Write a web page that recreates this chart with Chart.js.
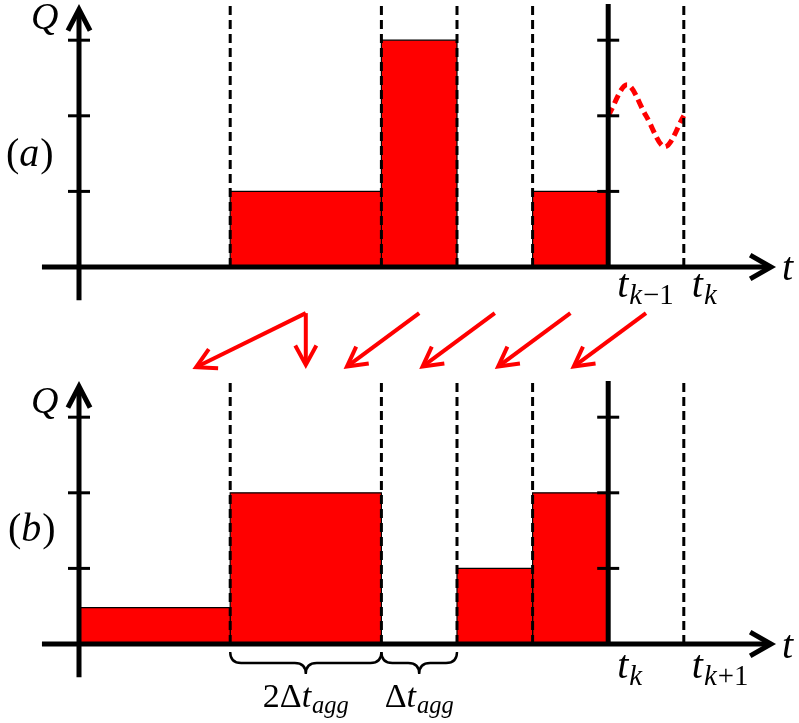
<!DOCTYPE html>
<html>
<head>
<meta charset="utf-8">
<script src="https://cdn.jsdelivr.net/npm/chart.js@4.4.1/dist/chart.umd.min.js"></script>
<style>
  html, body { margin: 0; padding: 0; background: #fff; }
  #wrap { position: relative; width: 799px; height: 723px; }
  #chartA { position: absolute; left: 0; top: 0; }
  #chartB { position: absolute; left: 0; top: 380px; }
</style>
</head>
<body>
<div id="wrap">
  <canvas id="chartA" width="799" height="380"></canvas>
  <canvas id="chartB" width="799" height="343"></canvas>
</div>
<script>
// time in units of Δt_agg, Q in tick units

// (a) bins before aggregation
const binStartA = [2, 4, 6];
const binEndA   = [4, 5, 7];
const flowA     = [1, 3, 1];

// (b) bins after shifting one step
const binStartB = [0, 2, 5, 6];
const binEndB   = [2, 4, 6, 7];
const flowB     = [0.48, 2, 1, 2];

const gridT  = [2, 4, 5, 6, 8];
const nowA   = 7;
const nowB   = 7;
const qTicks = [1, 2, 3];

// sketched forecast between t_{k-1} and t_k
const forecastT = [7, 7.25, 7.5, 7.75, 8];
const forecastQ = [2, 2.41, 2, 1.59, 2];

// shift arrows from (a) bins to (b) bins
const arrowFromT = [3, 3, 4.5, 5.5, 6.5, 7.5];
const arrowToT   = [1.5, 3, 3.5, 4.5, 5.5, 6.5];

const RED = '#ff0000';
const PX = 75.6;       // pixels per unit, both axes
const ORIGIN_X = 79;   // pixel column of t = 0

function font(size, it) {
  return (it ? 'italic ' : '') + size + 'px "Liberation Serif", serif';
}

// draws a math-ish label made of runs: {txt, it, sub}
function drawRuns(ctx, runs, x, y, size, align) {
  const pieces = runs.map(r => {
    const s = r.sub ? size * 0.72 : size;
    ctx.font = font(s, r.it);
    return { r: r, size: s, w: ctx.measureText(r.txt).width + (r.pad || 0) };
  });
  const total = pieces.reduce((a, p) => a + p.w, 0);
  let cx = align === 'center' ? x - total / 2 : x;
  ctx.save();
  ctx.fillStyle = '#000';
  ctx.textAlign = 'left';
  ctx.textBaseline = 'alphabetic';
  pieces.forEach(p => {
    ctx.font = font(p.size, p.r.it);
    ctx.fillText(p.r.txt, cx, y + (p.r.sub ? size * 0.17 : 0));
    cx += p.w;
  });
  ctx.restore();
}

function arrow(ctx, x0, y0, x1, y1, len, ang, width, color) {
  const a = Math.atan2(y1 - y0, x1 - x0);
  const back = width / (2 * Math.sin(ang));
  const tx = x1 - Math.cos(a) * back, ty = y1 - Math.sin(a) * back;
  ctx.save();
  ctx.strokeStyle = color;
  ctx.lineWidth = width;
  ctx.lineCap = 'butt';
  ctx.lineJoin = 'miter';
  ctx.beginPath();
  ctx.moveTo(x0, y0);
  ctx.lineTo(tx - Math.cos(a) * 2, ty - Math.sin(a) * 2);
  ctx.stroke();
  ctx.beginPath();
  ctx.moveTo(tx - len * Math.cos(a - ang), ty - len * Math.sin(a - ang));
  ctx.lineTo(tx, ty);
  ctx.lineTo(tx - len * Math.cos(a + ang), ty - len * Math.sin(a + ang));
  ctx.stroke();
  ctx.restore();
}

function line(ctx, x0, y0, x1, y1, w) {
  ctx.save();
  ctx.strokeStyle = '#000';
  ctx.lineWidth = w;
  ctx.beginPath();
  ctx.moveTo(x0, y0);
  ctx.lineTo(x1, y1);
  ctx.stroke();
  ctx.restore();
}

// axes, "now" line and its ticks
function drawFrame(chart, now) {
  const ctx = chart.ctx;
  const X = v => chart.scales.x.getPixelForValue(v);
  const Y = v => chart.scales.y.getPixelForValue(v);
  arrow(ctx, X(-0.49), Y(0), X(9.22), Y(0), 24, 0.52, 5, '#000');
  arrow(ctx, X(0), Y(-0.44), X(0), Y(3.48), 24, 0.48, 5, '#000');
  line(ctx, X(now), Y(0), X(now), Y(3.48), 5);
  qTicks.forEach(q => {
    line(ctx, X(0) - 11, Y(q), X(0) + 11, Y(q), 3);
    line(ctx, X(now) - 11, Y(q), X(now) + 11, Y(q), 3);
  });
}

function binDatasets(starts, ends, flows) {
  return flows.map((q, i) => ({
    data: [
      { x: starts[i], y: 0 }, { x: starts[i], y: q },
      { x: ends[i], y: q }, { x: ends[i], y: 0 }
    ],
    borderColor: '#000',
    borderWidth: 1.2,
    backgroundColor: RED,
    fill: 'origin',
    order: 3
  }));
}

function gridDatasets(ts) {
  return ts.map(t => ({
    data: [{ x: t, y: 0 }, { x: t, y: 3.46 }],
    borderColor: '#000',
    borderWidth: 3,
    borderDash: [9, 5],
    fill: false,
    order: 1
  }));
}

function baseOptions(height, baseline) {
  return {
    responsive: false,
    animation: false,
    events: [],
    layout: { padding: 0 },
    elements: { point: { radius: 0 }, line: { tension: 0 } },
    plugins: { legend: { display: false }, tooltip: { enabled: false } },
    scales: {
      x: { type: 'linear', display: false, min: -ORIGIN_X / PX, max: (799 - ORIGIN_X) / PX },
      y: { type: 'linear', display: false, min: -(height - baseline) / PX, max: baseline / PX }
    }
  };
}

const panelA = {
  id: 'panelA',
  afterDatasetsDraw(chart) {
    const ctx = chart.ctx;
    const X = v => chart.scales.x.getPixelForValue(v);
    const Y = v => chart.scales.y.getPixelForValue(v);
    drawFrame(chart, nowA);
    arrowFromT.forEach((t, i) => {
      arrow(ctx, X(t), Y(-0.61), X(arrowToT[i]), Y(-1.35), 22, 0.5, 4, RED);
    });
    drawRuns(ctx, [{ txt: 'Q', it: 1 }], 31, 29, 38, 'left');
    drawRuns(ctx, [{ txt: '(' }, { txt: 'a', it: 1, pad: 1 }, { txt: ')' }], 6, 166, 40, 'left');
    drawRuns(ctx, [{ txt: 't', it: 1 }], 782, Y(0) + 13, 40, 'left');
    drawRuns(ctx, [{ txt: 't', it: 1, pad: 1 }, { txt: 'k', it: 1, sub: 1, pad: 1 }, { txt: '−1', sub: 1 }],
      X(nowA) + 9, Y(0) + 30, 40, 'left');
    drawRuns(ctx, [{ txt: 't', it: 1, pad: 1 }, { txt: 'k', it: 1, sub: 1 }], X(8) + 8, Y(0) + 30, 40, 'left');
  }
};

function brace(ctx, x1, x2, y0, d) {
  const xm = (x1 + x2) / 2, r = 11, ym = y0 + d / 2;
  ctx.save();
  ctx.strokeStyle = '#000';
  ctx.lineWidth = 2.4;
  ctx.beginPath();
  ctx.moveTo(x1, y0);
  ctx.quadraticCurveTo(x1, ym, x1 + r, ym);
  ctx.lineTo(xm - r, ym);
  ctx.quadraticCurveTo(xm, ym, xm, y0 + d);
  ctx.quadraticCurveTo(xm, ym, xm + r, ym);
  ctx.lineTo(x2 - r, ym);
  ctx.quadraticCurveTo(x2, ym, x2, y0);
  ctx.stroke();
  ctx.restore();
}

const panelB = {
  id: 'panelB',
  afterDatasetsDraw(chart) {
    const ctx = chart.ctx;
    const X = v => chart.scales.x.getPixelForValue(v);
    const Y = v => chart.scales.y.getPixelForValue(v);
    drawFrame(chart, nowB);
    brace(ctx, X(2), X(4), Y(0) + 8, 22);
    brace(ctx, X(4), X(5), Y(0) + 8, 22);
    drawRuns(ctx, [{ txt: '2Δ' }, { txt: 't', it: 1, pad: 1 }, { txt: 'agg', it: 1, sub: 1 }],
      X(3), Y(0) + 63, 34, 'center');
    drawRuns(ctx, [{ txt: 'Δ' }, { txt: 't', it: 1, pad: 1 }, { txt: 'agg', it: 1, sub: 1 }],
      X(4.5), Y(0) + 63, 34, 'center');
    drawRuns(ctx, [{ txt: 'Q', it: 1 }], 31, 33, 38, 'left');
    drawRuns(ctx, [{ txt: '(' }, { txt: 'b', it: 1, pad: 1 }, { txt: ')' }], 8, 161, 40, 'left');
    drawRuns(ctx, [{ txt: 't', it: 1 }], 782, Y(0) + 14, 40, 'left');
    drawRuns(ctx, [{ txt: 't', it: 1, pad: 1 }, { txt: 'k', it: 1, sub: 1 }], X(nowB) + 9, Y(0) + 34, 40, 'left');
    drawRuns(ctx, [{ txt: 't', it: 1, pad: 1 }, { txt: 'k', it: 1, sub: 1, pad: 1 }, { txt: '+1', sub: 1 }],
      X(8) + 8, Y(0) + 34, 40, 'left');
  }
};

new Chart(document.getElementById('chartA'), {
  type: 'line',
  data: {
    datasets: [
      ...binDatasets(binStartA, binEndA, flowA),
      ...gridDatasets(gridT),
      {
        data: forecastT.map((t, i) => ({ x: t, y: forecastQ[i] })),
        borderColor: RED,
        borderWidth: 5,
        borderDash: [9, 5],
        cubicInterpolationMode: 'monotone',
        fill: false,
        order: 2
      }
    ]
  },
  options: baseOptions(380, 267),
  plugins: [panelA]
});

new Chart(document.getElementById('chartB'), {
  type: 'line',
  data: {
    datasets: [
      ...binDatasets(binStartB, binEndB, flowB),
      ...gridDatasets(gridT)
    ]
  },
  options: baseOptions(343, 264),
  plugins: [panelB]
});
</script>
</body>
</html>
